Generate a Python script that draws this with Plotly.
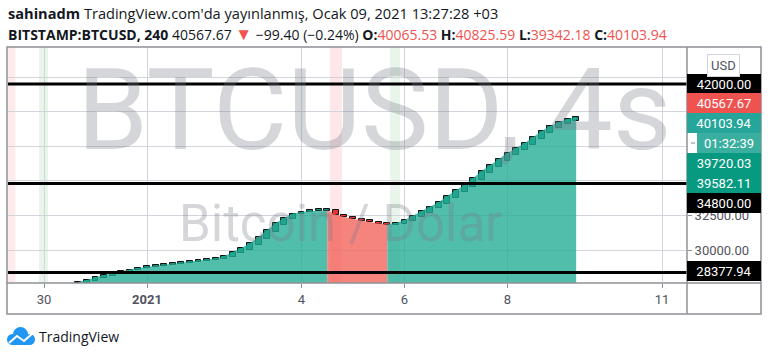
import plotly.graph_objects as go
import pandas as pd

# ---------------- data ----------------
bar_times = pd.date_range("2020-12-30 16:00", periods=59, freq="4h")
opens = [27600, 27600, 27740, 27950, 28100, 28250, 28420, 28560, 28700, 28772,
         28844, 28916, 28989, 29061, 29133, 29205, 29278, 29330, 29480, 29760,
         30030, 30380, 30790, 31290, 31830, 32220, 32580, 32746, 32818, 32835,
         32855, 32565, 32384, 32240, 32131, 32023, 31915, 31842, 31900, 32080,
         32380, 32700, 33020, 33330, 33760, 34180, 34560, 35050, 35560, 35990,
         36420, 36850, 37220, 37580, 38010, 38450, 38820, 39120, 39340]
closes = [27688, 27832, 28049, 28194, 28338, 28483, 28591, 28700, 28772, 28844,
          28916, 28989, 29061, 29133, 29205, 29278, 29386, 29567, 29855, 30145,
          30506, 30939, 31445, 31951, 32312, 32637, 32746, 32818, 32835, 32855,
          32565, 32384, 32240, 32131, 32023, 31915, 31842, 31951, 32168, 32493,
          32818, 33143, 33468, 33902, 34335, 34697, 35202, 35708, 36142, 36575,
          37009, 37370, 37731, 38165, 38598, 38959, 39248, 39465, 39610]

hline_prices = [42000.00, 34800.00, 28377.94]

day_ticks = ["2020-12-30", "2021-01-01", "2021-01-04", "2021-01-06", "2021-01-08", "2021-01-11"]
day_labels = ["30", "<b>2021</b>", "4", "6", "8", "11"]

price_ticks = [30000, 32500]

label_texts = ["42000.00", "40567.67", "40103.94", "01:32:39", "39720.03", "39582.11", "34800.00", "28377.94"]
label_colors = ["#000000", "#EF5350", "#26A69A", "#3AAE9F", "#089981", "#089981", "#000000", "#000000"]

stripes = [("2020-12-29 06:00", "2020-12-29 10:40", "rgba(242,54,69,0.10)"),
           ("2020-12-29 21:40", "2020-12-30 01:50", "rgba(76,175,80,0.12)"),
           ("2021-01-04 13:15", "2021-01-04 18:50", "rgba(242,54,69,0.12)"),
           ("2021-01-05 17:15", "2021-01-05 21:55", "rgba(76,175,80,0.12)")]

# ---------------- layout geometry ----------------
W, H = 768, 355
L, R, T, B = 8, 687, 47, 283
AXB = 314          # bottom of time axis
PR = 761           # right edge of price axis


def pxx(x):
    return (x - L) / (R - L)


def pxy(y):
    return (B - y) / (B - T)


UP_AREA = "rgba(34,171,148,0.79)"
DN_AREA = "rgba(242,98,88,0.78)"
UP_BOX = "#12927F"
DN_BOX = "#E8322F"

fig = go.Figure()

# area segments coloured by candle direction
up = [c >= o for o, c in zip(opens, closes)]
runs = []
s = 0
for i in range(1, len(up) + 1):
    if i == len(up) or up[i] != up[s]:
        runs.append((s, i - 1, up[s]))
        s = i
for a, b, is_up in runs:
    a0 = a - 1 if a > 0 else a
    fig.add_trace(go.Scatter(
        x=bar_times[a0:b + 1], y=closes[a0:b + 1], mode="lines",
        line=dict(width=0), fill="tozeroy",
        fillcolor=UP_AREA if is_up else DN_AREA,
        hoverinfo="skip", showlegend=False))

# candle bodies
MINH = 110
lo = [min(o, c) for o, c in zip(opens, closes)]
hi = [max(o, c) for o, c in zip(opens, closes)]
hgt = [max(h - l, MINH) for l, h in zip(lo, hi)]
fig.add_trace(go.Bar(
    x=bar_times, y=hgt, base=lo, width=1.0e7,
    marker=dict(color=[UP_BOX if u else DN_BOX for u in up],
                line=dict(color="#111111", width=1)),
    hoverinfo="skip", showlegend=False))

shapes = []
for x0, x1, col in stripes:
    shapes.append(dict(type="rect", xref="x", yref="paper", x0=x0, x1=x1, y0=0, y1=1,
                       fillcolor=col, line=dict(width=0), layer="below"))
for p in hline_prices:
    shapes.append(dict(type="line", xref="paper", yref="y", x0=0, x1=1, y0=p, y1=p,
                       line=dict(color="#000000", width=3)))

FRAME = "#8f9096"
# frame lines
shapes += [
    dict(type="rect", xref="paper", yref="paper", x0=pxx(7), x1=pxx(PR), y0=pxy(AXB), y1=pxy(T),
         line=dict(color=FRAME, width=1.5)),
    dict(type="line", xref="paper", yref="paper", x0=pxx(7), x1=pxx(PR), y0=0, y1=0,
         line=dict(color=FRAME, width=1.5)),
    dict(type="line", xref="paper", yref="paper", x0=1, x1=1, y0=pxy(AXB), y1=1,
         line=dict(color=FRAME, width=1.5)),
]

annotations = []
# watermarks
annotations.append(dict(text="BTCUSD, 4s", xref="paper", yref="paper", x=pxx(374), y=pxy(110),
                        showarrow=False, xanchor="center", yanchor="middle",
                        font=dict(family="Roboto", size=114, color="rgba(120,123,134,0.31)")))
annotations.append(dict(text="Bitcoin / Dolar", xref="paper", yref="paper", x=pxx(341), y=pxy(223),
                        showarrow=False, xanchor="center", yanchor="middle",
                        font=dict(family="Roboto", size=51, color="rgba(120,123,134,0.31)")))

# header
RED = "#F0524F"
hdr1 = "<b>sahinadm</b> TradingView.com'da yayınlanmış, Ocak 09, 2021 13:27:28 +03"
hdr2 = ("<b>BITSTAMP:BTCUSD, 240</b> 40567.67 <span style='color:%s;font-size:17px'>▼</span> −99.40 (−0.24%%) "
        "<b>O:</b><span style='color:%s'>40065.53</span> <b>H:</b><span style='color:%s'>40825.59</span> "
        "<b>L:</b><span style='color:%s'>39342.18</span> <b>C:</b><span style='color:%s'>40103.94</span>"
        % (RED, RED, RED, RED, RED))
annotations.append(dict(text=hdr1, xref="paper", yref="paper", x=pxx(6), y=pxy(13),
                        showarrow=False, xanchor="left", yanchor="middle",
                        font=dict(family="Open Sans", size=14.6, color="#131722")))
annotations.append(dict(text=hdr2, xref="paper", yref="paper", x=pxx(6), y=pxy(34),
                        showarrow=False, xanchor="left", yanchor="middle",
                        font=dict(family="Open Sans", size=14, color="#131722")))

# price labels on axis
label_y = [84, 103, 123, 143, 163, 183, 203, 271]
for txt, col, yy in zip(label_texts, label_colors, label_y):
    is_timer = txt.count(":") == 2
    left = 697 if is_timer else R
    annotations.append(dict(text=txt, xref="paper", yref="paper",
                            x=pxx(left), y=pxy(yy), showarrow=False,
                            xanchor="left", yanchor="middle",
                            width=PR - left, height=20, bgcolor=col, borderpad=0, borderwidth=0,
                            font=dict(family="Roboto", size=13, color="#ffffff")))
    tick_col = "#888888" if is_timer else "#ffffff"
    x0 = 691 if is_timer else R + 1
    shapes.append(dict(type="line", xref="paper", yref="paper", x0=pxx(x0), x1=pxx(x0 + 4),
                       y0=pxy(yy), y1=pxy(yy), line=dict(color=tick_col, width=1)))

# USD button
annotations.append(dict(text="USD", xref="paper", yref="paper", x=pxx(723), y=pxy(65),
                        showarrow=False, xanchor="center", yanchor="middle",
                        bgcolor="#ffffff", bordercolor="#d1d4dc", borderwidth=1, borderpad=3,
                        font=dict(family="Roboto", size=13, color="#50535e")))

# footer logo + text
LOGO = "#2196F3"
shapes += [
    dict(type="circle", xref="paper", yref="paper", x0=pxx(13), x1=pxx(28), y0=pxy(342), y1=pxy(327),
         fillcolor=LOGO, line=dict(width=0)),
    dict(type="circle", xref="paper", yref="paper", x0=pxx(7), x1=pxx(18), y0=pxy(345), y1=pxy(334),
         fillcolor=LOGO, line=dict(width=0)),
    dict(type="circle", xref="paper", yref="paper", x0=pxx(24), x1=pxx(35), y0=pxy(345), y1=pxy(334),
         fillcolor=LOGO, line=dict(width=0)),
    dict(type="rect", xref="paper", yref="paper", x0=pxx(12), x1=pxx(30), y0=pxy(345), y1=pxy(338),
         fillcolor=LOGO, line=dict(width=0)),
    dict(type="path", xref="paper", yref="paper",
         path="M %f,%f L %f,%f L %f,%f L %f,%f" % (pxx(9), pxy(343), pxx(17), pxy(336),
                                                 pxx(24), pxy(341), pxx(33), pxy(333)),
         line=dict(color="#ffffff", width=2)),
]
annotations.append(dict(text="TradingView", xref="paper", yref="paper", x=pxx(37), y=pxy(336),
                        showarrow=False, xanchor="left", yanchor="middle",
                        font=dict(family="Open Sans", size=14, color="#131722")))

GRID = "#d3d5dc"
fig.update_layout(
    width=W, height=H,
    margin=dict(l=L, r=W - R, t=T, b=H - B, pad=0),
    paper_bgcolor="#ffffff", plot_bgcolor="#ffffff",
    showlegend=False, hovermode=False, bargap=0,
    shapes=shapes, annotations=annotations,
    xaxis=dict(type="date", range=["2020-12-29 07:13", "2021-01-11 11:39"],
               tickvals=day_ticks, ticktext=day_labels,
               showgrid=True, gridcolor=GRID, gridwidth=1,
               ticks="outside", ticklen=4, tickcolor="#8f9096",
               tickfont=dict(family="Roboto", size=13, color="#50535e"),
               showline=False, zeroline=False, fixedrange=True),
    yaxis=dict(range=[27616, 44668], side="right",
               tickvals=price_ticks, tickformat=".2f",
               showgrid=True, gridcolor=GRID, gridwidth=1,
               minor=dict(dtick=2500, tick0=0, showgrid=True, gridcolor=GRID, gridwidth=1),
               ticks="outside", ticklen=4, tickcolor="#8f9096",
               tickfont=dict(family="Roboto", size=13, color="#50535e"),
               showline=False, zeroline=False, fixedrange=True),
)

fig.write_html("out.html")
